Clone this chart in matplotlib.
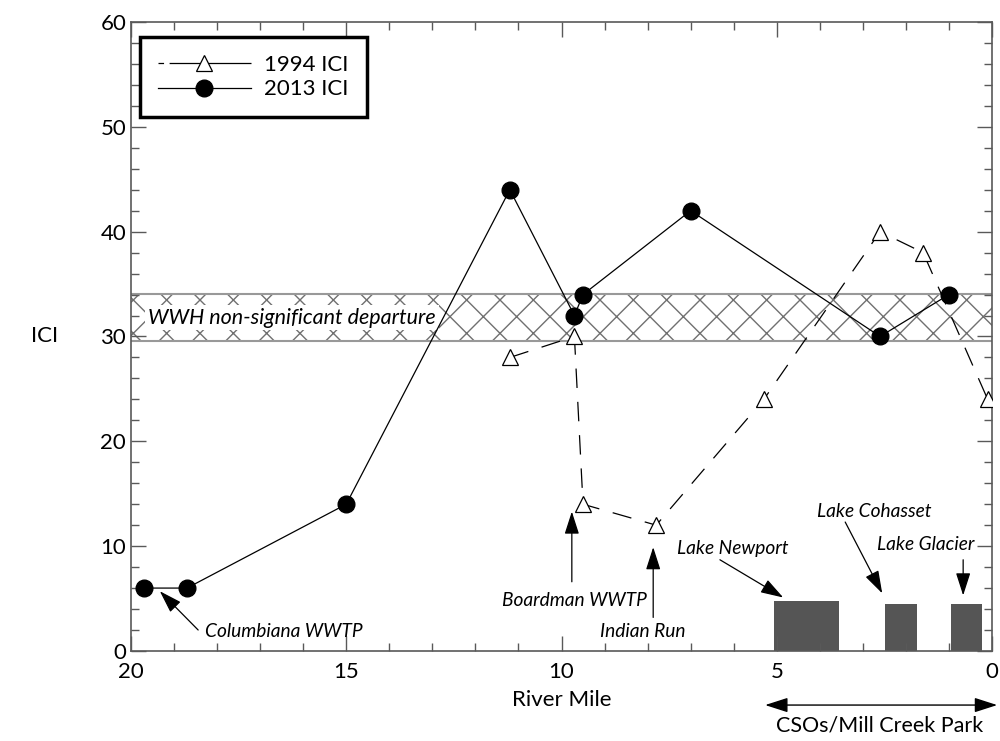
import matplotlib
matplotlib.use("Agg")
import matplotlib.pyplot as plt
from matplotlib.lines import Line2D

plt.rcParams['font.family'] = ['Lato', 'DejaVu Sans']
plt.rcParams['lines.scale_dashes'] = False
plt.rcParams['hatch.linewidth'] = 1.0

# 2013 ICI
mile_2013 = [19.7, 18.7, 15.0, 11.2, 9.7, 9.5, 7.0, 2.6, 1.0]
ici_2013 = [6, 6, 14, 44, 32, 34, 42, 30, 34]

# 1994 ICI
mile_1994 = [11.2, 9.7, 9.5, 7.8, 5.3, 2.6, 1.6, 0.1]
ici_1994 = [28, 30, 14, 12, 24, 40, 38, 24]

# lakes (left edge, right edge, height)
lake_left = [5.07, 2.49, 0.95]
lake_right = [3.56, 1.74, 0.23]
lake_height = [4.8, 4.5, 4.5]

# WWH non-significant departure band
band_low, band_high = 29.6, 34.1

# annotations: label, text pos, arrow tail, arrow tip
notes = [
    ("Columbiana WWTP", (18.28, 1.9), (18.44, 2.0), (19.33, 5.7), 'left'),
    ("Boardman WWTP", (9.7, 4.8), (9.76, 6.6), (9.76, 13.3), 'center'),
    ("Indian Run", (8.11, 1.9), (7.87, 3.2), (7.87, 9.9), 'center'),
    ("Lake Newport", (6.02, 9.8), (6.32, 8.7), (4.85, 5.1), 'center'),
    ("Lake Cohasset", (2.74, 13.3), (3.41, 12.3), (2.55, 5.5), 'center'),
    ("Lake Glacier", (1.53, 10.2), (0.67, 8.7), (0.67, 5.3), 'center'),
]

fig = plt.figure(figsize=(10, 7.41), dpi=100)
ax = fig.add_axes([0.131, 0.1215, 0.861, 0.8488])

axcol = '#595959'

# band
ax.axhspan(band_low, band_high, facecolor='white', edgecolor='#707070', hatch='x', linewidth=0, zorder=0)
ax.axhline(band_low, color='#999999', lw=1.5, zorder=0.5)
ax.axhline(band_high, color='#999999', lw=1.5, zorder=0.5)
ax.text(19.6, 31.8, "WWH non-significant departure", style='italic', fontsize=15.5,
        ha='left', va='center', zorder=1,
        bbox=dict(facecolor='white', edgecolor='none', pad=2))

# lakes
for l, r, h in zip(lake_left, lake_right, lake_height):
    ax.bar((l + r) / 2, h, width=l - r, color='#555555', zorder=1)

ax.plot(mile_1994, ici_1994, color='black', lw=0.9, linestyle=(0, (14, 10)),
        marker='^', markersize=11, markerfacecolor='white', markeredgecolor='black',
        markeredgewidth=0.9, zorder=3)
ax.plot(mile_2013, ici_2013, color='black', lw=0.9, marker='o', markersize=12,
        markerfacecolor='black', zorder=4)

for label, tpos, tail, tip, ha in notes:
    ax.text(tpos[0], tpos[1], label, style='italic', fontsize=13.8, ha=ha, va='center', zorder=5)
    ax.annotate('', xy=tip, xytext=tail,
                arrowprops=dict(arrowstyle='-|>,head_length=1.4,head_width=0.45',
                                color='black', lw=0.9, shrinkA=0, shrinkB=0), zorder=5)

ax.set_xlim(20, 0)
ax.set_ylim(0, 60)
ax.set_xticks([20, 15, 10, 5, 0])
ax.set_xticks(range(0, 21), minor=True)
ax.set_yticks(range(0, 61, 10))
ax.set_yticks(range(0, 61, 2), minor=True)
ax.tick_params(which='both', direction='in', top=True, right=True, color=axcol, labelsize=16)
ax.tick_params(which='major', length=11, width=1)
ax.tick_params(which='minor', length=6, width=1)
ax.tick_params(axis='x', pad=8)
for s in ax.spines.values():
    s.set_color(axcol)
    s.set_linewidth(1.2)

ax.set_xlabel("River Mile", fontsize=16)
ax.xaxis.set_label_coords(0.5, -0.062)
ax.set_ylabel("ICI", fontsize=16, rotation=0, ha='center', va='center')
ax.yaxis.set_label_coords(-0.1, 0.5)

# CSOs / Mill Creek Park
tr = ax.get_xaxis_transform()
ax.annotate('', xy=(-0.12, -0.086), xytext=(5.27, -0.086), xycoords=tr, textcoords=tr,
            arrowprops=dict(arrowstyle='<|-|>,head_length=1.4,head_width=0.45', color='black',
                            lw=1, shrinkA=0, shrinkB=0), annotation_clip=False)
ax.text(2.6, -0.118, "CSOs/Mill Creek Park", transform=tr, fontsize=15.5, ha='center', va='center')

handles = [
    Line2D([], [], color='black', lw=0.9, linestyle=(0, (4, 4, 60, 2)), marker='^', markersize=11,
           markerfacecolor='white', markeredgewidth=0.9),
    Line2D([], [], color='black', lw=0.9, marker='o', markersize=12, markerfacecolor='black'),
]
leg = ax.legend(handles, ["1994 ICI", "2013 ICI"], loc='upper left', bbox_to_anchor=(0.0105, 0.976),
                borderaxespad=0, fontsize=16, handlelength=4.2, fancybox=False, framealpha=1,
                edgecolor='black', borderpad=0.8, labelspacing=0.2, handletextpad=0.6)
leg.get_frame().set_linewidth(2.5)

fig.savefig("out.png", dpi=100)
